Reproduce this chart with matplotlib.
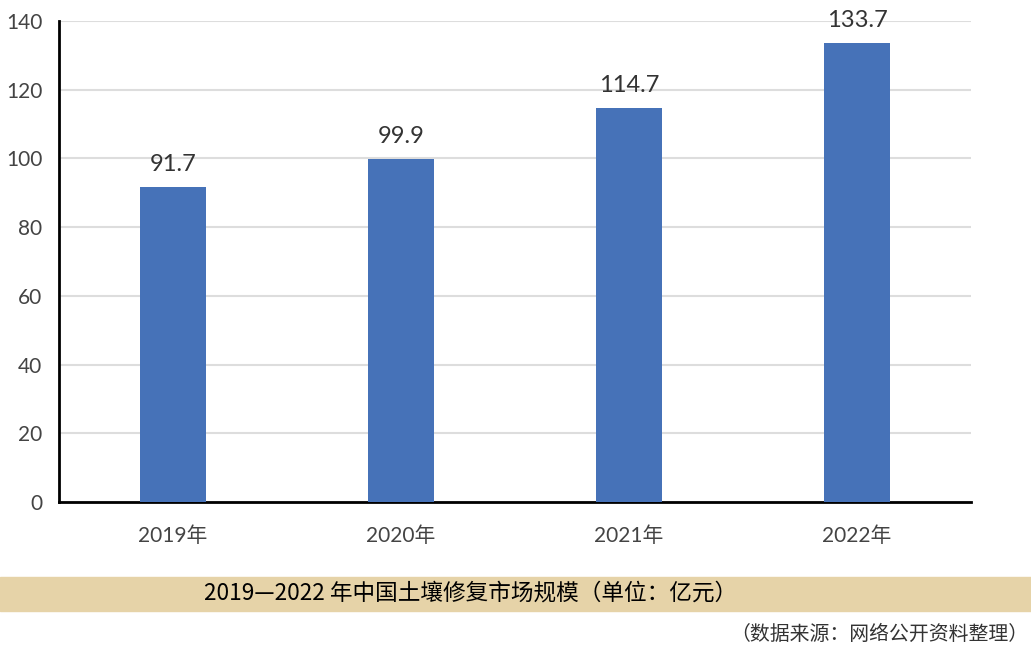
import matplotlib
matplotlib.use('Agg')
from matplotlib import pyplot as plt
from matplotlib.patches import Rectangle

years = ['2019年', '2020年', '2021年', '2022年']
values = [91.7, 99.9, 114.7, 133.7]
yticks = [0, 20, 40, 60, 80, 100, 120, 140]
title = '2019—2022 年中国土壤修复市场规模（单位：亿元）'
source = '（数据来源：网络公开资料整理）'

plt.rcParams['font.family'] = ['Lato', 'Noto Sans CJK SC', 'DejaVu Sans']

fig = plt.figure(figsize=(10.31, 6.49), dpi=100)
ax = fig.add_axes([0.0572, 0.2265, 0.8846, 0.7411])

x = range(len(years))
ax.bar(x, values, width=0.29, color='#4672B8', zorder=3)
for i, v in zip(x, values):
    ax.text(i, v + 3.5, '%.1f' % v, ha='center', va='bottom', fontsize=17, color='#333333')

ax.set_xlim(-0.5, 3.5)
ax.set_ylim(0, 140)
ax.set_yticks(yticks)
ax.set_xticks(list(x))
ax.set_xticklabels(years)
ax.yaxis.grid(True, color='#dddddd', linewidth=1.5, zorder=0)
ax.tick_params(length=0, labelsize=15, colors='#444444')
ax.tick_params(axis='x', pad=17)
ax.tick_params(axis='y', pad=12)
for s in ['top', 'right']:
    ax.spines[s].set_visible(False)
ax.spines['left'].set_linewidth(2)
ax.spines['bottom'].set_linewidth(2)

# title band
fig.patches.append(Rectangle((0, 38 / 649), 1, 34 / 649, transform=fig.transFigure,
                             color='#E6D3A8', zorder=0))
fig.text(0.456, 56 / 649, title, ha='center', va='center', fontsize=16.3,
         family=['Noto Sans CJK SC', 'DejaVu Sans'], color='#000000')
fig.text(0.997, 15 / 649, source, ha='right', va='center', fontsize=14.3,
         family=['Noto Sans CJK SC', 'DejaVu Sans'], color='#333333')

fig.savefig('out.png', dpi=100)
